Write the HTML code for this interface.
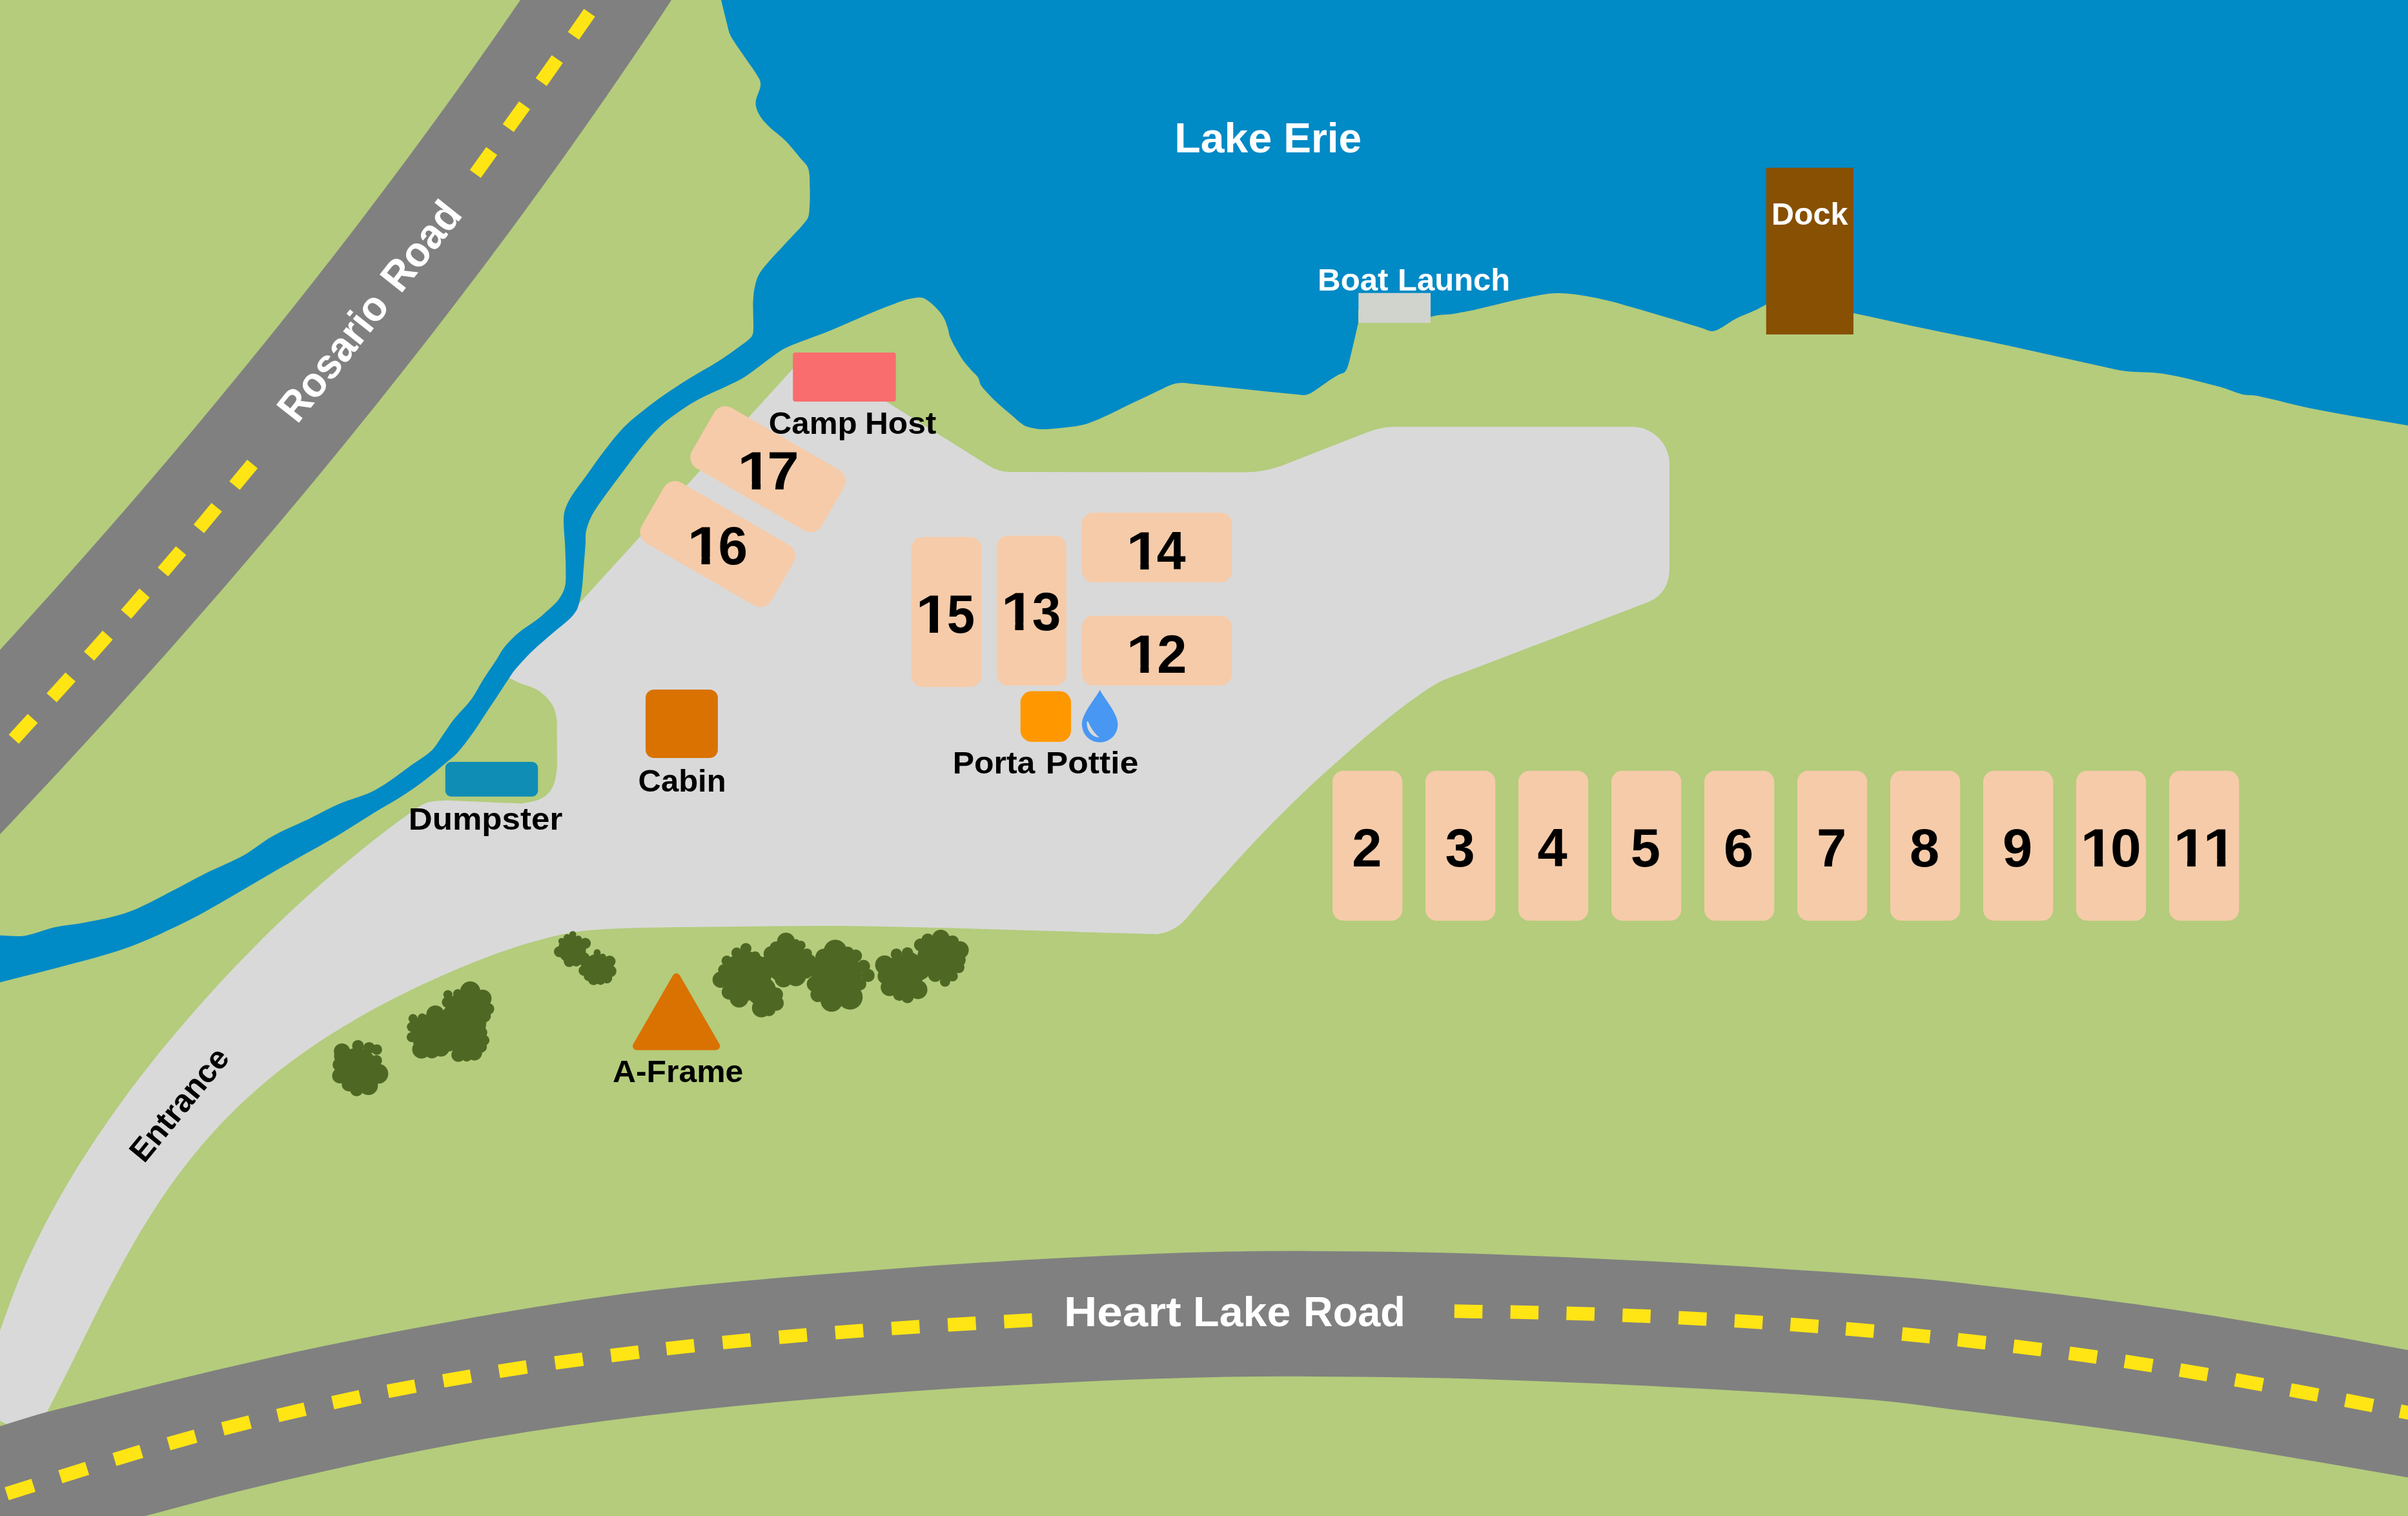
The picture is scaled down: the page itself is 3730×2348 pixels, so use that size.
<!DOCTYPE html>
<html lang="en"><head><meta charset="utf-8"><title>Campground Map</title>
<style>html,body{margin:0;padding:0;background:#B4CC7C;}body{width:3730px;height:2348px;overflow:hidden}svg{display:block}</style>
</head><body>
<svg width="3730" height="2348" viewBox="0 0 3730 2348" font-family="'Liberation Sans', sans-serif" font-weight="bold">
<rect width="3730" height="2348" fill="#B4CC7C"/>
<path d="M1251,546 L1532,721.5 Q1547,731 1566,731 L1930,731.5 Q1958,731 1985,721.5 L2118,669.5 Q2140,661 2160,661 L2528,661 A58,58 0 0 1 2586,719 L2586,880 C2586,905 2575,925 2549.7,933.8 C2537.2,938.6 2499.6,952.9 2474.5,962.5 C2449.4,972.1 2424.4,981.7 2399.3,991.3 C2374.2,1000.9 2349.2,1010.4 2324.1,1020.0 C2305.3,1027.2 2286.5,1034.3 2267.7,1041.5 C2255.1,1046.3 2242.0,1049.9 2230.1,1056.1 C2216.9,1062.9 2204.7,1071.9 2192.5,1080.5 C2179.7,1089.5 2167.1,1098.9 2154.9,1108.7 C2135.8,1124.0 2117.0,1139.6 2098.5,1155.7 C2073.1,1177.9 2047.7,1200.2 2023.2,1223.4 C1997.5,1247.8 1972.4,1272.9 1948.0,1298.6 C1922.3,1325.6 1897.6,1353.6 1872.8,1381.4 C1861.3,1394.3 1844.6,1414.3 1839.0,1420.9 Q1822,1441 1797.6,1445.8 L1793,1447 C1749.0,1446.0 1617.0,1441.4 1529.0,1439.0 C1452.7,1436.9 1376.3,1434.6 1300.0,1434.0 C1227.3,1433.5 1154.7,1434.9 1082.0,1435.7 C1041.4,1436.2 1000.8,1436.2 960.2,1437.9 C936.0,1438.9 911.6,1440.1 887.8,1443.9 C864.3,1447.7 841.1,1454.0 818.2,1460.7 C795.3,1467.4 772.7,1475.5 750.4,1483.9 C727.9,1492.4 705.8,1501.7 683.8,1511.4 C661.8,1521.1 640.0,1531.5 618.5,1542.3 C597.0,1553.1 575.7,1564.4 554.9,1576.4 C534.1,1588.4 513.6,1600.9 493.7,1614.2 C473.8,1627.5 454.3,1641.4 435.5,1656.1 C416.7,1670.8 398.4,1686.3 380.9,1702.5 C363.4,1718.7 346.5,1735.8 330.4,1753.5 C314.3,1771.2 298.9,1789.8 284.3,1808.8 C269.6,1827.9 255.8,1847.7 242.6,1867.8 C229.4,1887.9 216.9,1908.6 204.9,1929.4 C192.9,1950.2 181.7,1971.4 170.5,1992.6 C159.4,2013.7 148.8,2035.1 138.1,2056.5 C127.4,2077.8 117.2,2099.4 106.5,2120.7 C95.7,2142.4 84.5,2163.9 73.6,2185.6 C72.4,2188.0 70.6,2191.8 70.0,2193.0 L12,2206.5 L0,2200.4 L-20,2191 L-20,2113 C-16.6,2106.6 -6.3,2078.2 0.6,2059.4 C10.0,2033.9 18.6,2008.0 29.0,1982.9 C39.4,1958.0 51.0,1933.4 63.1,1909.3 C75.2,1885.2 88.2,1861.5 101.8,1838.2 C115.4,1814.9 129.8,1792.0 144.7,1769.5 C159.6,1747.0 175.1,1724.8 191.0,1703.0 C207.0,1681.2 223.5,1659.7 240.4,1638.6 C257.3,1617.5 274.7,1596.7 292.4,1576.2 C310.1,1555.7 328.2,1535.6 346.6,1515.8 C365.1,1496.0 383.9,1476.5 403.1,1457.4 C422.2,1438.3 441.7,1419.6 461.6,1401.3 C481.4,1383.0 501.6,1365.1 522.2,1347.6 C542.8,1330.1 563.8,1313.1 585.0,1296.4 C599.3,1285.2 614.0,1274.6 628.7,1263.9 C635.9,1258.7 642.9,1253.2 650.5,1248.6 C655.0,1245.9 659.9,1243.3 665.0,1242.1 C672.0,1240.4 679.5,1240.3 686.7,1239.9 C691.1,1239.6 697.8,1240.0 700.0,1240.0 L807.6,1244.6 C811.9,1243.7 825.2,1242.0 833.3,1239.0 C839.0,1236.9 845.0,1233.5 849.1,1229.1 C853.6,1224.3 856.9,1217.6 859.0,1211.3 C861.5,1203.8 862.3,1191.5 863.0,1187.6 L862.6,1114.4 C861.7,1111.1 860.2,1100.6 857.1,1094.6 C853.7,1088.0 848.6,1082.0 843.2,1076.8 C838.7,1072.4 833.1,1068.7 827.4,1065.9 C821.2,1062.8 814.1,1061.7 807.6,1059.0 C801.2,1056.4 791.9,1051.5 788.8,1050.0 L778,1036 L803,1006 L835,976 L872,946 L896,936 Z" fill="#D9D9D9"/>
<path d="M1112.0,-20.0 C1112.8,-16.7 1115.3,-6.7 1117.0,0.0 C1120.1,12.3 1122.9,24.7 1126.2,37.0 C1127.8,43.2 1128.7,49.8 1131.7,55.4 C1138.0,67.1 1146.6,77.8 1154.0,89.0 C1161.3,100.0 1169.8,110.6 1176.0,122.0 C1177.8,125.2 1178.5,129.4 1178.0,133.0 C1176.7,141.7 1170.9,150.3 1170.5,158.9 C1170.2,165.1 1172.9,171.9 1176.0,177.4 C1179.7,184.2 1185.3,190.2 1190.9,195.8 C1198.9,203.8 1208.7,210.0 1216.7,218.0 C1224.7,226.0 1231.7,235.1 1238.9,243.9 C1243.4,249.3 1249.6,254.1 1251.8,260.5 C1254.7,268.9 1254.1,278.9 1254.4,288.2 C1254.8,300.5 1254.7,313.0 1253.7,325.2 C1253.3,330.2 1252.9,335.9 1250.0,340.0 C1240.6,353.2 1227.8,364.7 1216.7,377.0 C1205.6,389.3 1193.8,401.0 1183.5,413.8 C1179.0,419.4 1174.7,425.6 1172.4,432.3 C1169.2,441.6 1167.5,451.9 1166.8,461.9 C1165.6,479.0 1167.8,496.6 1166.8,513.6 C1166.6,516.9 1165.3,520.5 1163.1,522.8 C1156.7,529.3 1148.5,534.5 1141.0,540.0 C1131.5,546.9 1121.9,553.7 1112.0,560.0 C1097.6,569.1 1082.4,577.0 1068.0,586.0 C1053.1,595.3 1038.4,604.9 1024.0,615.0 C1014.1,621.9 1004.4,629.4 995.0,637.0 C985.1,645.0 974.8,652.9 966.0,662.0 C955.5,672.9 946.3,685.0 937.0,697.0 C926.9,710.0 917.6,723.6 908.0,737.0 C900.3,747.6 891.9,757.9 885.0,769.0 C880.9,775.6 877.3,782.7 875.0,790.0 C873.3,795.4 873.0,801.3 873.0,807.0 C873.0,818.3 874.5,829.7 875.0,841.0 C875.6,854.0 876.4,867.0 876.4,880.0 C876.4,889.7 877.1,899.8 875.0,909.0 C873.3,916.1 869.3,923.0 865.0,929.0 C860.9,934.7 855.2,939.2 850.0,944.0 C844.0,949.5 837.8,955.0 831.3,960.0 C822.3,966.9 812.3,972.5 803.6,979.8 C795.8,986.4 788.4,993.7 781.9,1001.6 C776.5,1008.2 772.7,1016.1 768.0,1023.3 C761.5,1033.2 754.6,1042.9 748.2,1053.0 C742.0,1062.7 737.2,1073.5 730.4,1082.7 C722.1,1093.9 711.4,1103.4 702.7,1114.4 C696.2,1122.6 690.9,1131.6 684.9,1140.1 C679.7,1147.4 675.5,1155.8 669.1,1161.9 C660.3,1170.3 649.4,1176.6 639.4,1183.6 C620.2,1197.1 601.9,1212.5 581.4,1223.5 C563.2,1233.2 542.3,1237.6 523.3,1245.9 C508.4,1252.4 494.3,1260.6 479.7,1267.7 C460.4,1277.1 440.2,1285.0 421.5,1295.4 C406.3,1303.9 393.1,1315.9 377.9,1324.4 C359.2,1334.8 339.0,1342.4 319.8,1352.0 C300.2,1361.8 281.2,1372.8 261.6,1382.6 C240.5,1393.2 219.8,1405.2 197.7,1413.1 C176.2,1420.7 153.2,1424.5 130.8,1429.1 C115.4,1432.2 99.6,1433.0 84.3,1436.3 C68.6,1439.7 53.6,1447.1 37.8,1449.4 C25.5,1451.2 12.6,1449.0 0.0,1448.8 C-6.7,1448.7 -18.6,1443.2 -20.0,1448.5 C-25.3,1469.1 -25.3,1507.3 -20.0,1526.5 C-18.6,1531.6 -6.7,1523.2 0.0,1521.5 C38.8,1511.6 77.7,1502.2 116.3,1491.6 C145.6,1483.5 175.1,1476.0 203.5,1465.4 C233.3,1454.2 262.1,1440.2 290.7,1426.2 C310.5,1416.5 329.6,1405.2 348.8,1394.2 C378.0,1377.5 406.8,1360.1 436.0,1343.3 C465.0,1326.6 494.5,1310.9 523.3,1293.9 C542.5,1282.6 561.0,1270.1 580.0,1258.5 C593.1,1250.5 606.7,1243.4 619.6,1235.1 C633.1,1226.4 646.3,1217.1 659.2,1207.4 C670.1,1199.2 680.4,1190.4 690.8,1181.6 C696.9,1176.5 703.3,1171.6 708.6,1165.8 C716.5,1157.1 723.5,1147.6 730.4,1138.1 C737.4,1128.5 743.6,1118.3 750.2,1108.4 C756.8,1098.5 763.4,1088.6 770.0,1078.7 C776.3,1069.2 782.5,1059.5 788.8,1050.0 C791.7,1045.7 794.3,1041.1 797.7,1037.2 C805.9,1027.6 814.4,1018.2 823.4,1009.5 C834.2,999.1 845.8,989.6 857.1,979.8 C864.9,973.1 873.2,966.9 880.8,960.0 C883.8,957.3 886.6,954.2 889.0,951.0 C891.3,947.9 893.8,944.6 895.0,941.0 C897.8,932.6 899.7,923.8 901.0,915.0 C902.7,903.4 903.1,891.7 904.0,880.0 C905.1,867.0 906.1,854.0 907.0,841.0 C907.4,834.7 906.6,828.1 908.0,822.0 C909.9,813.8 913.0,805.5 917.0,798.0 C922.7,787.5 930.0,777.8 937.0,768.0 C946.4,754.8 956.3,741.9 966.0,729.0 C975.6,716.3 984.8,703.3 995.0,691.0 C1004.2,679.9 1013.5,668.8 1024.0,659.0 C1033.2,650.4 1043.7,643.2 1054.0,636.0 C1063.3,629.5 1073.0,623.3 1083.0,618.0 C1097.0,610.6 1111.7,604.8 1126.0,598.0 C1134.1,594.1 1142.3,590.5 1150.0,586.0 C1157.0,581.9 1163.4,576.8 1170.0,572.0 C1182.7,562.8 1194.9,552.6 1208.0,544.0 C1214.2,539.9 1221.1,536.8 1228.0,534.0 C1247.1,526.2 1266.8,519.8 1286.0,512.0 C1305.5,504.1 1324.6,495.1 1344.0,487.0 C1355.9,482.0 1368.0,477.3 1380.0,472.6 C1386.9,469.9 1393.7,466.9 1400.8,464.9 C1407.6,463.0 1414.6,461.6 1421.6,460.8 C1424.3,460.5 1427.4,460.6 1429.9,461.6 C1434.3,463.5 1438.5,466.4 1442.3,469.5 C1446.8,473.2 1451.0,477.5 1454.8,482.0 C1458.0,485.8 1460.9,490.0 1463.1,494.4 C1465.4,499.0 1466.8,504.1 1468.3,509.0 C1469.6,513.1 1469.9,517.5 1471.4,521.4 C1473.7,527.2 1476.7,532.7 1479.7,538.1 C1483.6,545.1 1487.6,552.2 1492.2,558.8 C1495.9,564.0 1500.5,568.6 1504.7,573.4 C1508.1,577.3 1512.4,580.5 1515.1,584.8 C1517.2,588.1 1517.1,592.8 1519.2,596.2 C1522.0,600.8 1525.9,604.7 1529.6,608.7 C1534.9,614.4 1540.4,620.0 1546.2,625.3 C1552.9,631.4 1560.0,637.1 1567.0,643.0 C1573.2,648.2 1578.9,654.3 1585.7,658.6 C1589.3,660.9 1593.9,661.8 1598.2,662.7 C1603.6,663.9 1609.2,664.7 1614.8,664.8 C1623.1,664.9 1631.5,664.1 1639.8,663.2 C1651.6,662.0 1663.6,661.3 1675.1,658.6 C1685.1,656.3 1694.8,652.3 1704.2,648.2 C1721.1,640.9 1737.4,632.2 1754.0,624.3 C1767.8,617.7 1781.7,611.1 1795.6,604.6 C1802.5,601.4 1809.2,597.5 1816.4,595.2 C1821.0,593.7 1826.1,593.3 1830.9,593.1 C1834.6,592.9 1838.3,593.6 1842.0,594.0 C1871.3,596.9 1900.7,600.0 1930.0,603.0 C1957.3,605.8 1984.7,608.7 2012.0,611.3 C2015.3,611.6 2018.8,612.3 2022.0,611.8 C2025.4,611.2 2029.0,609.8 2032.0,608.0 C2041.8,602.0 2050.9,594.7 2060.5,588.3 C2065.2,585.2 2070.0,582.2 2075.0,579.6 C2077.2,578.4 2080.1,578.5 2082.0,577.0 C2084.0,575.5 2085.5,573.1 2086.5,570.7 C2088.8,565.1 2090.2,559.0 2091.7,553.0 C2096.1,535.4 2101.9,508.8 2104.0,500.0 L2104,500 L2104,480 L2216,480 L2216,490.7 C2218.2,490.2 2224.6,488.6 2229.0,488.0 C2235.3,487.2 2241.7,487.4 2248.0,486.5 C2258.7,485.0 2269.4,482.8 2280.0,480.7 C2286.7,479.3 2293.3,477.6 2300.0,476.0 C2320.0,471.3 2339.9,465.9 2360.0,462.0 C2377.5,458.6 2395.3,454.0 2413.0,454.0 C2433.6,454.0 2454.6,458.1 2475.0,462.0 C2494.2,465.7 2513.1,471.6 2532.0,477.0 C2566.8,486.9 2601.4,497.5 2636.0,508.0 C2641.0,509.5 2646.0,512.6 2651.0,513.0 C2654.6,513.3 2658.6,511.7 2662.0,510.0 C2671.6,505.1 2680.3,498.0 2690.0,493.0 C2699.7,488.0 2710.1,484.5 2720.0,479.9 C2725.5,477.4 2730.7,474.3 2736.0,471.5 C2747.3,465.6 2764.3,456.9 2770.0,454.0 L2840,478.5 C2845.2,479.6 2860.7,482.8 2871.0,485.0 C2877.3,486.3 2883.7,487.6 2890.0,489.0 C2914.3,494.3 2938.6,499.9 2963.0,505.0 C3013.3,515.6 3063.8,525.3 3114.0,536.0 C3162.1,546.3 3209.9,557.6 3258.0,568.0 C3269.9,570.6 3281.9,573.6 3294.0,575.0 C3313.2,577.2 3332.9,575.8 3352.0,579.0 C3380.9,583.8 3409.6,591.5 3438.0,599.0 C3450.2,602.2 3461.8,608.1 3474.0,611.0 C3481.1,612.7 3488.8,611.5 3496.0,613.0 C3524.8,618.9 3553.1,627.3 3582.0,633.0 C3631.1,642.7 3680.7,650.4 3730.0,659.0 C3740.0,660.7 3755.0,663.2 3760.0,664.0 L3760,-20 Z" fill="#008AC6"/>
<path d="M833.3,-40.0 C822.5,-24.2 790.1,23.5 768.1,55.0 C745.9,86.8 723.5,118.5 700.8,150.0 C677.9,181.8 654.8,213.5 631.4,245.0 C607.8,276.8 584.0,308.5 560.0,340.0 C535.7,371.8 511.2,403.5 486.4,435.0 C461.4,466.8 436.2,498.5 410.8,530.0 C385.1,561.8 359.2,593.5 333.1,625.0 C306.7,656.8 280.1,688.5 253.3,720.0 C226.2,751.8 198.9,783.5 171.4,815.0 C143.6,846.8 115.6,878.5 87.5,910.0 C59.0,941.8 30.3,973.5 1.4,1005.0 C-27.8,1036.8 -72.0,1084.2 -86.7,1100.0 L-89.4,1385.0 C-74.1,1369.2 -28.3,1321.8 2.0,1290.0 C31.9,1258.5 61.7,1226.8 91.3,1195.0 C120.5,1163.5 149.6,1131.8 178.5,1100.0 C207.1,1068.5 235.5,1036.8 263.7,1005.0 C291.6,973.5 319.4,941.8 346.9,910.0 C374.1,878.5 401.2,846.8 428.0,815.0 C454.6,783.5 481.0,751.8 507.1,720.0 C533.0,688.5 558.7,656.8 584.2,625.0 C609.4,593.5 634.4,561.8 659.2,530.0 C683.7,498.5 708.0,466.8 732.1,435.0 C756.0,403.5 779.7,371.8 803.1,340.0 C826.3,308.5 849.2,276.8 872.0,245.0 C894.5,213.5 916.8,181.8 938.8,150.0 C960.6,118.5 982.2,86.8 1003.6,55.0 C1024.8,23.5 1055.9,-24.2 1066.4,-40.0 Z" fill="#808080"/>
<g fill="#FFE513"><rect x="-21.75" y="-10.5" width="43.5" height="21" transform="translate(950.6 -34.0) rotate(124.9)"/><rect x="-21.75" y="-10.5" width="43.5" height="21" transform="translate(900.7 37.6) rotate(124.9)"/><rect x="-21.75" y="-10.5" width="43.5" height="21" transform="translate(850.8 109.3) rotate(125.1)"/><rect x="-21.75" y="-10.5" width="43.5" height="21" transform="translate(799.9 180.8) rotate(125.6)"/><rect x="-21.75" y="-10.5" width="43.5" height="21" transform="translate(749.0 251.6) rotate(125.7)"/><rect x="-21.75" y="-10.5" width="43.5" height="21" transform="translate(377.2 735.4) rotate(129.6)"/><rect x="-21.75" y="-10.5" width="43.5" height="21" transform="translate(321.8 802.4) rotate(129.6)"/><rect x="-21.75" y="-10.5" width="43.5" height="21" transform="translate(266.4 869.3) rotate(130.3)"/><rect x="-21.75" y="-10.5" width="43.5" height="21" transform="translate(209.6 934.9) rotate(131.1)"/><rect x="-21.75" y="-10.5" width="43.5" height="21" transform="translate(152.4 1000.0) rotate(131.6)"/><rect x="-21.75" y="-10.5" width="43.5" height="21" transform="translate(94.6 1064.6) rotate(132.1)"/><rect x="-21.75" y="-10.5" width="43.5" height="21" transform="translate(36.0 1128.8) rotate(132.5)"/><rect x="-21.75" y="-10.5" width="43.5" height="21" transform="translate(-23.0 1193.0) rotate(132.6)"/></g>
<path d="M-40.0,2221.0 C-33.3,2219.0 -13.3,2212.9 0.0,2208.9 C25.1,2201.4 49.8,2192.7 75.2,2186.3 C188.3,2157.6 301.5,2128.9 415.3,2103.5 C511.7,2082.0 608.7,2062.7 706.0,2045.4 C803.6,2028.1 901.6,2011.5 1000.0,1999.7 C1121.3,1985.2 1243.4,1976.0 1365.3,1966.4 C1462.1,1958.7 1559.0,1952.8 1656.0,1947.8 C1737.3,1943.6 1818.6,1940.3 1900.0,1938.6 C1969.2,1937.1 2038.5,1937.5 2107.7,1938.2 C2176.9,1938.9 2246.1,1940.3 2315.3,1942.8 C2412.2,1946.3 2509.1,1950.7 2606.0,1956.0 C2704.0,1961.4 2802.0,1967.9 2900.0,1974.8 C2940.3,1977.6 2980.6,1980.7 3020.7,1985.1 C3117.7,1995.9 3214.7,2007.0 3311.4,2020.4 C3394.7,2031.9 3477.7,2045.9 3560.6,2059.9 C3617.2,2069.4 3673.5,2080.6 3730.0,2091.0 C3743.3,2093.5 3763.3,2097.2 3770.0,2098.5 L3770.0,2296.0 C3763.3,2294.7 3743.4,2290.7 3730.0,2288.3 C3673.6,2278.4 3617.1,2268.5 3560.6,2259.2 C3477.6,2245.6 3394.7,2231.6 3311.4,2219.8 C3214.7,2206.0 3117.6,2194.6 3020.7,2182.4 C2980.5,2177.3 2940.4,2171.1 2900.0,2167.9 C2802.1,2160.1 2704.1,2154.4 2606.0,2149.2 C2509.2,2144.0 2412.2,2139.9 2315.3,2136.7 C2246.1,2134.4 2176.9,2133.3 2107.7,2132.6 C2038.5,2131.9 1969.2,2131.3 1900.0,2132.6 C1818.6,2134.1 1737.3,2137.0 1656.0,2140.9 C1559.0,2145.6 1462.1,2150.6 1365.3,2158.3 C1243.4,2167.9 1121.4,2178.4 1000.0,2192.8 C901.7,2204.5 803.4,2218.8 706.0,2236.4 C608.5,2254.1 511.8,2276.3 415.3,2298.7 C351.3,2313.5 287.9,2331.4 224.3,2348.0 C199.5,2354.5 162.4,2364.7 150.0,2368.0 L-40,2400 Z" fill="#808080"/>
<g fill="#FFE513"><rect x="-21.75" y="-10.5" width="43.5" height="21" transform="translate(-52.0 2334.0) rotate(-18.0)"/><rect x="-21.75" y="-10.5" width="43.5" height="21" transform="translate(31.1 2307.0) rotate(-17.7)"/><rect x="-21.75" y="-10.5" width="43.5" height="21" transform="translate(114.2 2280.8) rotate(-17.5)"/><rect x="-21.75" y="-10.5" width="43.5" height="21" transform="translate(198.1 2254.2) rotate(-16.8)"/><rect x="-21.75" y="-10.5" width="43.5" height="21" transform="translate(282.0 2230.2) rotate(-15.5)"/><rect x="-21.75" y="-10.5" width="43.5" height="21" transform="translate(366.3 2207.7) rotate(-14.2)"/><rect x="-21.75" y="-10.5" width="43.5" height="21" transform="translate(451.4 2187.4) rotate(-13.2)"/><rect x="-21.75" y="-10.5" width="43.5" height="21" transform="translate(536.6 2167.9) rotate(-12.1)"/><rect x="-21.75" y="-10.5" width="43.5" height="21" transform="translate(622.1 2150.8) rotate(-10.9)"/><rect x="-21.75" y="-10.5" width="43.5" height="21" transform="translate(708.1 2135.0) rotate(-10.0)"/><rect x="-21.75" y="-10.5" width="43.5" height="21" transform="translate(794.5 2120.5) rotate(-8.9)"/><rect x="-21.75" y="-10.5" width="43.5" height="21" transform="translate(881.3 2108.0) rotate(-7.8)"/><rect x="-21.75" y="-10.5" width="43.5" height="21" transform="translate(968.0 2096.8) rotate(-7.1)"/><rect x="-21.75" y="-10.5" width="43.5" height="21" transform="translate(1053.8 2086.5) rotate(-6.4)"/><rect x="-21.75" y="-10.5" width="43.5" height="21" transform="translate(1141.0 2077.3) rotate(-5.6)"/><rect x="-21.75" y="-10.5" width="43.5" height="21" transform="translate(1228.3 2069.4) rotate(-4.9)"/><rect x="-21.75" y="-10.5" width="43.5" height="21" transform="translate(1315.5 2062.4) rotate(-4.3)"/><rect x="-21.75" y="-10.5" width="43.5" height="21" transform="translate(1402.7 2056.2) rotate(-3.8)"/><rect x="-21.75" y="-10.5" width="43.5" height="21" transform="translate(1489.9 2050.8) rotate(-3.4)"/><rect x="-21.75" y="-10.5" width="43.5" height="21" transform="translate(1577.1 2045.8) rotate(-3.3)"/><rect x="-21.75" y="-10.5" width="43.5" height="21" transform="translate(2274.6 2031.2) rotate(0.9)"/><rect x="-21.75" y="-10.5" width="43.5" height="21" transform="translate(2361.4 2032.5) rotate(1.1)"/><rect x="-21.75" y="-10.5" width="43.5" height="21" transform="translate(2448.2 2034.6) rotate(1.8)"/><rect x="-21.75" y="-10.5" width="43.5" height="21" transform="translate(2535.0 2037.9) rotate(2.4)"/><rect x="-21.75" y="-10.5" width="43.5" height="21" transform="translate(2621.8 2042.0) rotate(3.0)"/><rect x="-21.75" y="-10.5" width="43.5" height="21" transform="translate(2708.6 2047.0) rotate(3.6)"/><rect x="-21.75" y="-10.5" width="43.5" height="21" transform="translate(2795.0 2052.8) rotate(4.3)"/><rect x="-21.75" y="-10.5" width="43.5" height="21" transform="translate(2881.0 2059.9) rotate(5.1)"/><rect x="-21.75" y="-10.5" width="43.5" height="21" transform="translate(2968.0 2068.2) rotate(5.7)"/><rect x="-21.75" y="-10.5" width="43.5" height="21" transform="translate(3054.3 2077.3) rotate(6.4)"/><rect x="-21.75" y="-10.5" width="43.5" height="21" transform="translate(3140.7 2087.7) rotate(7.1)"/><rect x="-21.75" y="-10.5" width="43.5" height="21" transform="translate(3226.7 2098.9) rotate(8.0)"/><rect x="-21.75" y="-10.5" width="43.5" height="21" transform="translate(3312.7 2111.8) rotate(8.8)"/><rect x="-21.75" y="-10.5" width="43.5" height="21" transform="translate(3398.2 2125.5) rotate(9.7)"/><rect x="-21.75" y="-10.5" width="43.5" height="21" transform="translate(3483.8 2140.9) rotate(10.3)"/><rect x="-21.75" y="-10.5" width="43.5" height="21" transform="translate(3569.3 2156.7) rotate(10.6)"/><rect x="-21.75" y="-10.5" width="43.5" height="21" transform="translate(3654.4 2172.8) rotate(11.1)"/><rect x="-21.75" y="-10.5" width="43.5" height="21" transform="translate(3739.0 2189.9) rotate(11.4)"/></g>
<rect x="2104.3" y="453.8" width="111.7" height="46.2" fill="#D1D3CD"/>
<rect x="2735.8" y="259.8" width="135.2" height="258.2" fill="#875002"/>
<rect x="1228.2" y="546" width="159.5" height="76" rx="4" fill="#F96D6E"/>
<rect x="1000" y="1068" width="112" height="106" rx="13" fill="#D97200"/>
<rect x="1580.7" y="1070.5" width="78.3" height="78.5" rx="17.5" fill="#FF9800"/>
<rect x="689.8" y="1180.1" width="143.5" height="53.6" rx="9" fill="#108DB5"/>
<path d="M1703.7,1068.5 C1710.7,1082.5 1731.5,1104.5 1731.5,1122 A27.8,27.8 0 0 1 1675.9,1122 C1675.9,1104.5 1696.7,1082.5 1703.7,1068.5 Z" fill="#4897F3"/>
<path d="M1683.6,1117.2 C1682.6,1130.5 1690.5,1141.5 1702.8,1142.2 C1696.5,1137 1689.5,1127.5 1685.6,1117.8 Z" fill="#D9D9D9"/>
<path d="M1047.7,1513.8 L1109,1620.2 L986.3,1620.2 Z" fill="#D97200" stroke="#D97200" stroke-width="12.4" stroke-linejoin="round"/>
<rect x="2064" y="1193.8" width="108.3" height="232.3" rx="17" fill="#F6CBA9"/>
<rect x="2208" y="1193.8" width="108.3" height="232.3" rx="17" fill="#F6CBA9"/>
<rect x="2352" y="1193.8" width="108.3" height="232.3" rx="17" fill="#F6CBA9"/>
<rect x="2496" y="1193.8" width="108.3" height="232.3" rx="17" fill="#F6CBA9"/>
<rect x="2640" y="1193.8" width="108.3" height="232.3" rx="17" fill="#F6CBA9"/>
<rect x="2784" y="1193.8" width="108.3" height="232.3" rx="17" fill="#F6CBA9"/>
<rect x="2928" y="1193.8" width="108.3" height="232.3" rx="17" fill="#F6CBA9"/>
<rect x="3072" y="1193.8" width="108.3" height="232.3" rx="17" fill="#F6CBA9"/>
<rect x="3216" y="1193.8" width="108.3" height="232.3" rx="17" fill="#F6CBA9"/>
<rect x="3360" y="1193.8" width="108.3" height="232.3" rx="17" fill="#F6CBA9"/>
<rect x="1676" y="794" width="232.1" height="108" rx="17" fill="#F6CBA9"/>
<rect x="1676" y="953.8" width="232.1" height="108" rx="17" fill="#F6CBA9"/>
<rect x="1544" y="829.7" width="108" height="232.1" rx="17" fill="#F6CBA9"/>
<rect x="1411.9" y="831.8" width="108.4" height="232.2" rx="17" fill="#F6CBA9"/>
<rect x="1073.5" y="672.6" width="232" height="108.2" rx="20" fill="#F6CBA9" transform="rotate(30 1189.5 726.7)"/>
<rect x="995.7" y="788.5" width="232" height="108.2" rx="20" fill="#F6CBA9" transform="rotate(30 1111.7 842.6)"/>
<text x="2094.2" y="1342.4" font-size="83" textLength="46.2" lengthAdjust="spacingAndGlyphs" fill="#000">2</text>
<text x="2238.4" y="1342.4" font-size="83" textLength="46.2" lengthAdjust="spacingAndGlyphs" fill="#000">3</text>
<text x="2381.6" y="1342.4" font-size="83" textLength="46.2" lengthAdjust="spacingAndGlyphs" fill="#000">4</text>
<text x="2525.8" y="1342.4" font-size="83" textLength="46.2" lengthAdjust="spacingAndGlyphs" fill="#000">5</text>
<text x="2670.0" y="1342.4" font-size="83" textLength="46.2" lengthAdjust="spacingAndGlyphs" fill="#000">6</text>
<text x="2814.0" y="1342.4" font-size="83" textLength="46.2" lengthAdjust="spacingAndGlyphs" fill="#000">7</text>
<text x="2958.0" y="1342.4" font-size="83" textLength="46.2" lengthAdjust="spacingAndGlyphs" fill="#000">8</text>
<text x="3102.0" y="1342.4" font-size="83" textLength="46.2" lengthAdjust="spacingAndGlyphs" fill="#000">9</text>
<g><clipPath id="c1"><rect x="3218.6" y="1259.4" width="83.0" height="72.2"/><rect x="3244.3" y="1330.6" width="13.0" height="13.8"/></clipPath><text x="3222.6" y="1342.4" font-size="83" textLength="52.0" lengthAdjust="spacingAndGlyphs" clip-path="url(#c1)">1</text><text x="3268.9" y="1342.4" font-size="83" textLength="47.8" lengthAdjust="spacingAndGlyphs" fill="#000">0</text></g>
<g><clipPath id="c2"><rect x="3362.7" y="1259.4" width="83.0" height="72.2"/><rect x="3388.1" y="1330.6" width="12.8" height="13.8"/></clipPath><text x="3366.7" y="1342.4" font-size="83" textLength="51.5" lengthAdjust="spacingAndGlyphs" clip-path="url(#c2)">1</text><clipPath id="c3"><rect x="3408.6" y="1259.4" width="83.0" height="72.2"/><rect x="3434.3" y="1330.6" width="13.0" height="13.8"/></clipPath><text x="3412.6" y="1342.4" font-size="83" textLength="52.0" lengthAdjust="spacingAndGlyphs" clip-path="url(#c3)">1</text></g>
<g><clipPath id="c4"><rect x="1740.5" y="799.4" width="83.0" height="72.2"/><rect x="1766.4" y="870.6" width="13.1" height="13.8"/></clipPath><text x="1744.5" y="882.4" font-size="83" textLength="52.4" lengthAdjust="spacingAndGlyphs" clip-path="url(#c4)">1</text><text x="1791.8" y="882.4" font-size="83" textLength="44.9" lengthAdjust="spacingAndGlyphs" fill="#000">4</text></g>
<g><clipPath id="c5"><rect x="1740.5" y="958.6" width="83.0" height="72.2"/><rect x="1766.4" y="1029.8" width="13.1" height="13.8"/></clipPath><text x="1744.5" y="1041.6" font-size="83" textLength="52.4" lengthAdjust="spacingAndGlyphs" clip-path="url(#c5)">1</text><text x="1792.3" y="1041.6" font-size="83" textLength="46.2" lengthAdjust="spacingAndGlyphs" fill="#000">2</text></g>
<g><clipPath id="c6"><rect x="1546.7" y="893.0" width="83.0" height="72.2"/><rect x="1572.4" y="964.2" width="13.0" height="13.8"/></clipPath><text x="1550.7" y="976.0" font-size="83" textLength="52.0" lengthAdjust="spacingAndGlyphs" clip-path="url(#c6)">1</text><text x="1598.8" y="976.0" font-size="83" textLength="44.5" lengthAdjust="spacingAndGlyphs" fill="#000">3</text></g>
<g><clipPath id="c7"><rect x="1414.5" y="897.2" width="83.0" height="72.2"/><rect x="1440.1" y="968.4" width="12.9" height="13.8"/></clipPath><text x="1418.5" y="980.2" font-size="83" textLength="51.7" lengthAdjust="spacingAndGlyphs" clip-path="url(#c7)">1</text><text x="1466.8" y="980.2" font-size="83" textLength="43.3" lengthAdjust="spacingAndGlyphs" fill="#000">5</text></g>
<g><clipPath id="c8"><rect x="1138.1" y="674.5" width="83.0" height="72.2"/><rect x="1164.7" y="745.7" width="13.5" height="13.8"/></clipPath><text x="1142.1" y="757.5" font-size="83" textLength="54.1" lengthAdjust="spacingAndGlyphs" clip-path="url(#c8)">1</text><text x="1188.2" y="757.5" font-size="83" textLength="49.5" lengthAdjust="spacingAndGlyphs" fill="#000">7</text></g>
<g><clipPath id="c9"><rect x="1060.6" y="790.5" width="83.0" height="72.2"/><rect x="1086.6" y="861.7" width="13.1" height="13.8"/></clipPath><text x="1064.6" y="873.5" font-size="83" textLength="52.8" lengthAdjust="spacingAndGlyphs" clip-path="url(#c9)">1</text><text x="1112.5" y="873.5" font-size="83" textLength="45.6" lengthAdjust="spacingAndGlyphs" fill="#000">6</text></g>
<text y="236.1" font-size="65" fill="#fff"><tspan x="1819.3" textLength="150.9" lengthAdjust="spacingAndGlyphs">Lake</tspan> <tspan x="1988.3" textLength="120.9" lengthAdjust="spacingAndGlyphs">Erie</tspan></text>
<text y="449.9" font-size="49" fill="#fff"><tspan x="2041.1" textLength="109.4" lengthAdjust="spacingAndGlyphs">Boat</tspan> <tspan x="2165.1" textLength="174.2" lengthAdjust="spacingAndGlyphs">Launch</tspan></text>
<text x="2743.9" y="348.4" font-size="49" textLength="118.6" lengthAdjust="spacingAndGlyphs" fill="#fff">Dock</text>
<text y="672.0" font-size="49" fill="#000"><tspan x="1190.7" textLength="137.0" lengthAdjust="spacingAndGlyphs">Camp</tspan> <tspan x="1339.9" textLength="110.5" lengthAdjust="spacingAndGlyphs">Host</tspan></text>
<text x="988.5" y="1225.5" font-size="49" textLength="136.2" lengthAdjust="spacingAndGlyphs" fill="#000">Cabin</text>
<text x="632.8" y="1285.0" font-size="49" textLength="238.5" lengthAdjust="spacingAndGlyphs" fill="#000">Dumpster</text>
<text y="1198.1" font-size="49" fill="#000"><tspan x="1475.8" textLength="127.6" lengthAdjust="spacingAndGlyphs">Porta</tspan> <tspan x="1619.8" textLength="143.6" lengthAdjust="spacingAndGlyphs">Pottie</tspan></text>
<text x="948.9" y="1676.0" font-size="49" textLength="202.5" lengthAdjust="spacingAndGlyphs" fill="#000">A-Frame</text>
<text y="2053.7" font-size="65" fill="#fff"><tspan x="1647.9" textLength="181.9" lengthAdjust="spacingAndGlyphs">Heart</tspan> <tspan x="1848.1" textLength="151.3" lengthAdjust="spacingAndGlyphs">Lake</tspan> <tspan x="2019.1" textLength="157.7" lengthAdjust="spacingAndGlyphs">Road</tspan></text>
<text y="654.9" font-size="65" fill="#fff" transform="rotate(-51.6 463.0 654.9)"><tspan x="458.9" textLength="233.8" lengthAdjust="spacingAndGlyphs">Rosario</tspan> <tspan x="716.4" textLength="157.3" lengthAdjust="spacingAndGlyphs">Road</tspan></text>
<text x="223.2" y="1802.9" font-size="49" textLength="211.6" lengthAdjust="spacingAndGlyphs" fill="#000" transform="rotate(-50.6 223.2 1802.9)">Entrance</text>
<g fill="#4E6824">
<circle cx="553.4" cy="1655.4" r="32.4"/><circle cx="529.7" cy="1628.4" r="12.5"/><circle cx="554.5" cy="1619.8" r="9.1"/><circle cx="571.8" cy="1623.0" r="9.1"/><circle cx="583.7" cy="1625.6" r="8.2"/><circle cx="583.2" cy="1642.5" r="8.6"/><circle cx="585.8" cy="1663.0" r="15.6"/><circle cx="570.7" cy="1681.4" r="14.7"/><circle cx="552.4" cy="1687.8" r="10.2"/><circle cx="540.5" cy="1679.2" r="11.2"/><circle cx="526.4" cy="1666.2" r="11.9"/><circle cx="525.4" cy="1649.0" r="10.2"/><circle cx="528.6" cy="1636.0" r="11.2"/>
<circle cx="667.9" cy="1603.6" r="30.2"/><circle cx="674.4" cy="1571.2" r="14.0"/><circle cx="639.8" cy="1577.7" r="7.1"/><circle cx="653.9" cy="1576.0" r="6.5"/><circle cx="638.1" cy="1590.6" r="7.8"/><circle cx="637.7" cy="1606.2" r="7.8"/><circle cx="652.8" cy="1625.2" r="14.3"/><circle cx="669.0" cy="1627.4" r="11.9"/><circle cx="683.0" cy="1623.0" r="13.4"/><circle cx="650.6" cy="1592.8" r="15.1"/><circle cx="657.1" cy="1584.2" r="13.0"/><circle cx="720.8" cy="1584.2" r="32.4"/><circle cx="728.4" cy="1535.6" r="15.6"/><circle cx="747.8" cy="1546.4" r="13.6"/><circle cx="693.8" cy="1540.5" r="7.1"/><circle cx="709.0" cy="1539.2" r="7.1"/><circle cx="692.8" cy="1552.2" r="8.4"/><circle cx="756.5" cy="1562.6" r="9.1"/><circle cx="750.0" cy="1573.4" r="10.4"/><circle cx="745.7" cy="1599.3" r="9.1"/><circle cx="750.0" cy="1611.2" r="8.2"/><circle cx="744.6" cy="1620.9" r="9.7"/><circle cx="734.9" cy="1630.6" r="11.9"/><circle cx="723.0" cy="1636.0" r="8.2"/><circle cx="710.0" cy="1633.8" r="10.8"/><circle cx="724.1" cy="1614.4" r="21.6"/><circle cx="715.4" cy="1560.4" r="22.7"/><circle cx="734.9" cy="1566.9" r="21.6"/><circle cx="704.6" cy="1558.2" r="15.1"/><circle cx="698.2" cy="1571.2" r="13.0"/><circle cx="693.8" cy="1592.8" r="16.2"/><circle cx="696.0" cy="1614.4" r="14.0"/><circle cx="687.4" cy="1584.2" r="13.0"/>
<circle cx="886.1" cy="1470.8" r="21.6"/><circle cx="887.2" cy="1447.4" r="5.4"/><circle cx="878.5" cy="1452.4" r="5.6"/><circle cx="869.9" cy="1457.8" r="5.0"/><circle cx="906.6" cy="1461.0" r="8.6"/><circle cx="895.8" cy="1454.6" r="5.6"/><circle cx="866.6" cy="1474.0" r="8.6"/><circle cx="881.8" cy="1489.1" r="8.6"/><circle cx="892.6" cy="1489.1" r="7.8"/><circle cx="926.0" cy="1498.8" r="21.6"/><circle cx="925.0" cy="1475.5" r="5.4"/><circle cx="933.6" cy="1482.0" r="5.0"/><circle cx="944.4" cy="1489.1" r="9.1"/><circle cx="945.5" cy="1504.2" r="9.3"/><circle cx="940.1" cy="1515.0" r="8.2"/><circle cx="919.6" cy="1517.2" r="8.6"/><circle cx="930.4" cy="1518.3" r="7.1"/><circle cx="904.4" cy="1503.2" r="8.2"/><circle cx="912.0" cy="1511.8" r="7.8"/><circle cx="903.4" cy="1484.8" r="10.4"/><circle cx="909.8" cy="1493.4" r="9.7"/>
<circle cx="1156.4" cy="1511.7" r="38.2"/><circle cx="1155.4" cy="1469.1" r="8.6"/><circle cx="1141.1" cy="1475.8" r="8.2"/><circle cx="1125.8" cy="1488.2" r="8.2"/><circle cx="1169.8" cy="1481.5" r="8.0"/><circle cx="1121.1" cy="1502.1" r="8.8"/><circle cx="1116.3" cy="1517.4" r="12.6"/><circle cx="1129.7" cy="1536.5" r="11.8"/><circle cx="1144.9" cy="1546.1" r="14.5"/><circle cx="1179.3" cy="1561.3" r="14.5"/><circle cx="1190.8" cy="1563.6" r="10.5"/><circle cx="1202.2" cy="1553.7" r="11.8"/><circle cx="1202.2" cy="1540.3" r="10.7"/><circle cx="1179.3" cy="1534.6" r="22.9"/><circle cx="1217.5" cy="1488.8" r="33.4"/><circle cx="1217.5" cy="1458.2" r="13.8"/><circle cx="1202.2" cy="1467.8" r="9.9"/><circle cx="1194.6" cy="1477.3" r="11.8"/><circle cx="1232.8" cy="1460.5" r="5.9"/><circle cx="1240.4" cy="1464.3" r="7.4"/><circle cx="1250.0" cy="1476.7" r="7.8"/><circle cx="1255.7" cy="1486.8" r="8.0"/><circle cx="1232.8" cy="1511.7" r="15.7"/><circle cx="1213.7" cy="1515.5" r="13.8"/><circle cx="1295.8" cy="1509.8" r="39.2"/><circle cx="1293.9" cy="1473.5" r="18.0"/><circle cx="1276.7" cy="1483.0" r="13.8"/><circle cx="1313.0" cy="1475.8" r="9.9"/><circle cx="1325.4" cy="1480.5" r="9.9"/><circle cx="1337.8" cy="1496.4" r="9.9"/><circle cx="1344.5" cy="1510.7" r="10.3"/><circle cx="1332.1" cy="1524.1" r="9.9"/><circle cx="1316.8" cy="1544.2" r="19.5"/><circle cx="1288.2" cy="1549.9" r="17.2"/><circle cx="1267.2" cy="1540.3" r="11.8"/><circle cx="1261.5" cy="1524.1" r="11.8"/><circle cx="1397.1" cy="1511.7" r="32.5"/><circle cx="1370.3" cy="1494.5" r="14.7"/><circle cx="1388.5" cy="1477.7" r="8.8"/><circle cx="1405.7" cy="1475.8" r="8.8"/><circle cx="1372.2" cy="1511.7" r="12.8"/><circle cx="1378.0" cy="1528.9" r="13.8"/><circle cx="1393.2" cy="1540.3" r="9.9"/><circle cx="1405.7" cy="1544.2" r="9.6"/><circle cx="1421.9" cy="1532.7" r="14.7"/><circle cx="1454.4" cy="1483.0" r="33.4"/><circle cx="1457.2" cy="1453.8" r="13.8"/><circle cx="1437.2" cy="1455.7" r="9.9"/><circle cx="1425.7" cy="1463.4" r="9.9"/><circle cx="1475.4" cy="1458.6" r="9.9"/><circle cx="1486.8" cy="1471.6" r="13.8"/><circle cx="1484.9" cy="1486.8" r="10.9"/><circle cx="1484.9" cy="1498.3" r="9.0"/><circle cx="1475.4" cy="1511.7" r="8.4"/><circle cx="1463.9" cy="1520.3" r="8.0"/><circle cx="1448.6" cy="1509.8" r="10.9"/><circle cx="1257.6" cy="1496.4" r="11.8"/><circle cx="1408.5" cy="1492.6" r="18.1"/><circle cx="1423.8" cy="1500.2" r="18.1"/><circle cx="1183.1" cy="1500.2" r="18.1"/><circle cx="1248.1" cy="1504.0" r="11.5"/>
</g>
</svg>
</body></html>
